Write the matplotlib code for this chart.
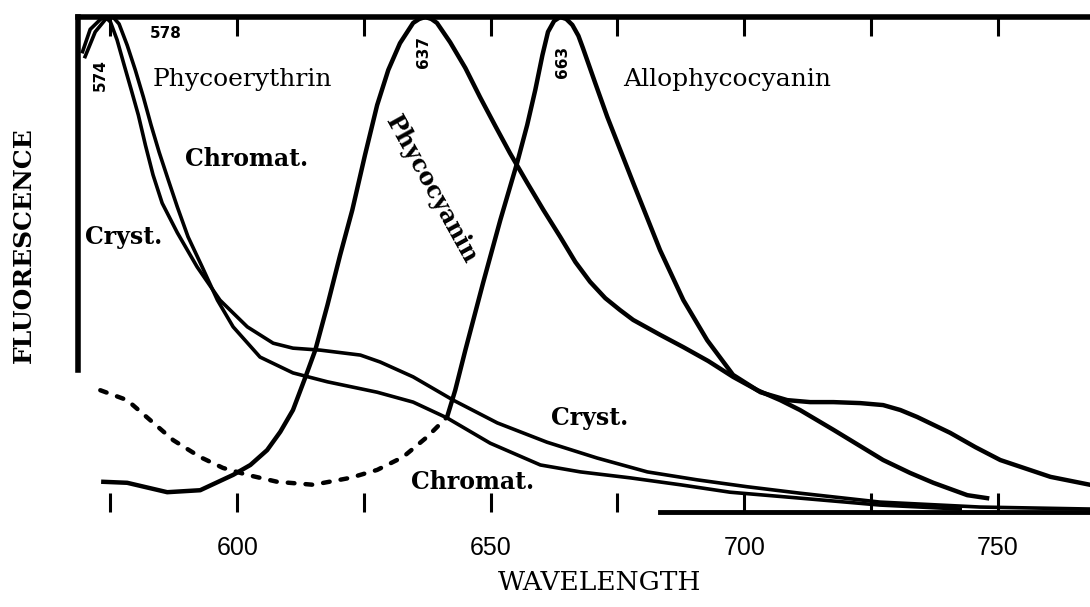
import matplotlib
matplotlib.use("Agg")
import matplotlib.pyplot as plt
import numpy as np

# wavelength (nm) / relative fluorescence (% of peak)
pe_cryst_wl = [569.5, 571.0, 573.0, 574.0, 575.0, 576.3, 577.7, 579.1, 580.5, 581.9,
               583.4, 585.2, 588.2, 592.1, 596.6, 602.0, 607.1, 611.0, 616.4, 624.3,
               628.2, 634.7, 642.6, 651.3, 661.1, 671.0, 680.9, 690.7, 700.6, 711.0,
               726.8, 746.5, 768.2]
pe_cryst_f = [93.0, 97.5, 99.5, 100.0, 99.0, 95.4, 90.3, 85.3, 80.2, 74.1,
              68.1, 62.4, 56.4, 49.5, 42.8, 37.4, 34.1, 33.1, 32.7, 31.7,
              30.3, 27.3, 22.6, 18.0, 14.1, 10.9, 8.1, 6.5, 5.1, 3.8,
              2.0, 1.0, 0.6]

pe_chrom_wl = [570.0, 572.0, 574.0, 575.5, 576.7, 578.3, 579.9, 581.5, 583.0, 584.6,
               586.4, 588.2, 590.3, 593.1, 596.1, 599.2, 604.5, 611.0, 617.8, 627.6,
               634.7, 641.4, 649.9, 659.8, 667.7, 677.5, 687.4, 697.2, 711.0, 726.8,
               742.6]
pe_chrom_f = [92.0, 97.0, 99.5, 100.0, 98.6, 94.3, 89.3, 83.8, 78.2, 72.7,
              67.1, 61.6, 55.6, 49.5, 42.8, 37.4, 31.3, 28.1, 26.3, 24.2,
              22.2, 19.0, 13.9, 9.5, 8.1, 6.9, 5.5, 4.0, 2.8, 1.4,
              0.6]

pc_wl = [573.6, 578.3, 586.2, 592.7, 599.2, 602.6, 605.9, 608.5, 611.0, 613.4,
         615.4, 617.8, 620.3, 622.7, 625.2, 627.6, 629.8, 632.1, 634.7, 635.9,
         637.1, 638.3, 639.4, 642.0, 645.0, 647.9, 650.9, 653.8, 657.2, 660.4,
         663.7, 666.7, 669.6, 672.6, 675.5, 678.1, 683.4, 688.0, 692.9, 697.8,
         702.6, 707.1, 711.0, 717.6, 722.9, 727.4, 732.7, 737.3, 744.0, 747.9]
pc_f = [6.1, 5.9, 4.0, 4.4, 7.5, 9.5, 12.5, 16.2, 20.6, 27.1,
        32.7, 41.8, 51.9, 61.0, 72.1, 82.2, 89.3, 94.7, 98.8, 99.6,
        100.0, 99.6, 98.8, 94.9, 89.7, 83.8, 78.0, 72.5, 66.5, 61.0,
        55.6, 50.5, 46.5, 43.2, 40.8, 38.8, 35.8, 33.3, 30.5, 27.3,
        24.6, 22.6, 20.6, 16.6, 13.3, 10.5, 7.9, 5.9, 3.4, 2.8]

# allophycocyanin: dashed part (short wavelengths) and solid part
apc_dash_wl = [573.0, 578.3, 582.8, 587.4, 592.7, 597.2, 602.0, 607.9, 615.0, 622.3,
               627.6, 632.7, 637.5, 641.4]
apc_dash_f = [24.6, 22.6, 18.6, 14.5, 11.1, 8.9, 7.5, 6.1, 5.5, 6.9,
              8.5, 11.1, 15.2, 19.2]
apc_wl = [641.4, 643.0, 645.0, 648.5, 651.9, 655.2, 657.2, 658.8, 660.2, 661.3,
          662.5, 663.7, 664.9, 666.1, 667.3, 668.2, 670.6, 673.0, 678.1, 683.4,
          688.0, 692.7, 697.8, 703.2, 708.5, 713.0, 717.6, 722.9, 727.4, 730.8,
          734.1, 740.6, 745.6, 750.5, 760.4, 768.2]
apc_f = [19.2, 24.6, 32.7, 46.3, 59.0, 70.5, 78.2, 85.3, 92.3, 97.0,
         99.2, 100.0, 99.6, 98.4, 96.2, 93.7, 86.7, 79.8, 66.5, 52.9,
         42.8, 34.7, 27.7, 24.2, 22.6, 22.2, 22.2, 22.0, 21.6, 20.6,
         19.2, 16.0, 13.1, 10.5, 7.1, 5.5]

major_ticks = [600, 650, 700, 750]
minor_ticks = [575, 625, 675, 725]

fig = plt.figure(figsize=(10.9, 6.07), dpi=100)
ax = fig.add_axes([78 / 1090, 1 - 512 / 607, 1 - 78 / 1090, 495 / 607])
ax.set_xlim(568.6, 768.2)
ax.set_ylim(0, 100)

lw = 3.2
ax.plot(pe_cryst_wl, pe_cryst_f, color="black", lw=2.6, solid_joinstyle="round")
ax.plot(pe_chrom_wl, pe_chrom_f, color="black", lw=2.6, solid_joinstyle="round")
ax.plot(pc_wl, pc_f, color="black", lw=lw, solid_joinstyle="round")
ax.plot(apc_wl, apc_f, color="black", lw=lw, solid_joinstyle="round")
ax.plot(apc_dash_wl, apc_dash_f, color="black", lw=lw, linestyle=(0, (1.5, 2.5)),
        dash_capstyle="round")

# spines: heavy top and left, bottom only partly drawn
ax.spines["right"].set_visible(False)
ax.spines["top"].set_linewidth(4)
ax.spines["left"].set_linewidth(4)
ax.spines["bottom"].set_linewidth(3.5)
ax.spines["left"].set_bounds(28.7, 100)
ax.spines["bottom"].set_bounds(683.4, 768.2)

ax.set_xticks(major_ticks)
ax.set_xticks(minor_ticks, minor=True)
ax.set_yticks([])
ax.tick_params(axis="x", which="both", direction="in", top=True, bottom=True,
               length=14, width=2.2, color="black")
ax.tick_params(axis="x", which="major", pad=17, labelsize=18)
for lab in ax.get_xticklabels():
    lab.set_family(["Liberation Sans", "DejaVu Sans"])

serif = "DejaVu Serif"
fig.text(24 / 1090, 1 - 245 / 607, "FLUORESCENCE", rotation=90, ha="center", va="center",
         family=serif, fontweight="bold", fontsize=18)
fig.text(600 / 1090, 1 - 583 / 607, "WAVELENGTH", ha="center", va="center",
         family=serif, fontsize=19)

lab_kw = dict(family=serif, color="black")
ax.text(583.4, 87.3, "Phycoerythrin", ha="left", va="center", fontsize=18, **lab_kw)
ax.text(676.1, 87.3, "Allophycocyanin", ha="left", va="center", fontsize=18, **lab_kw)
ax.text(589.7, 71.3, "Chromat.", ha="left", va="center", fontsize=17,
        fontweight="bold", **lab_kw)
ax.text(570.0, 55.6, "Cryst.", ha="left", va="center", fontsize=17,
        fontweight="bold", **lab_kw)
ax.text(638.3, 65.1, "Phycocyanin", ha="center", va="center", rotation=-61,
        rotation_mode="anchor", fontsize=17, fontweight="bold", **lab_kw)
ax.text(669.6, 19.0, "Cryst.", ha="center", va="center", fontsize=17,
        fontweight="bold", **lab_kw)
ax.text(646.4, 6.1, "Chromat.", ha="center", va="center", fontsize=17,
        fontweight="bold", **lab_kw)

peak_kw = dict(family="DejaVu Sans", fontsize=11, fontweight="bold", ha="center", va="center")
ax.text(573.0, 88.3, "574", rotation=90, **peak_kw)
ax.text(586.0, 96.6, "578", **peak_kw)
ax.text(636.7, 92.9, "637", rotation=90, **peak_kw)
ax.text(664.1, 90.9, "663", rotation=90, **peak_kw)

fig.savefig("out.png", dpi=100)
